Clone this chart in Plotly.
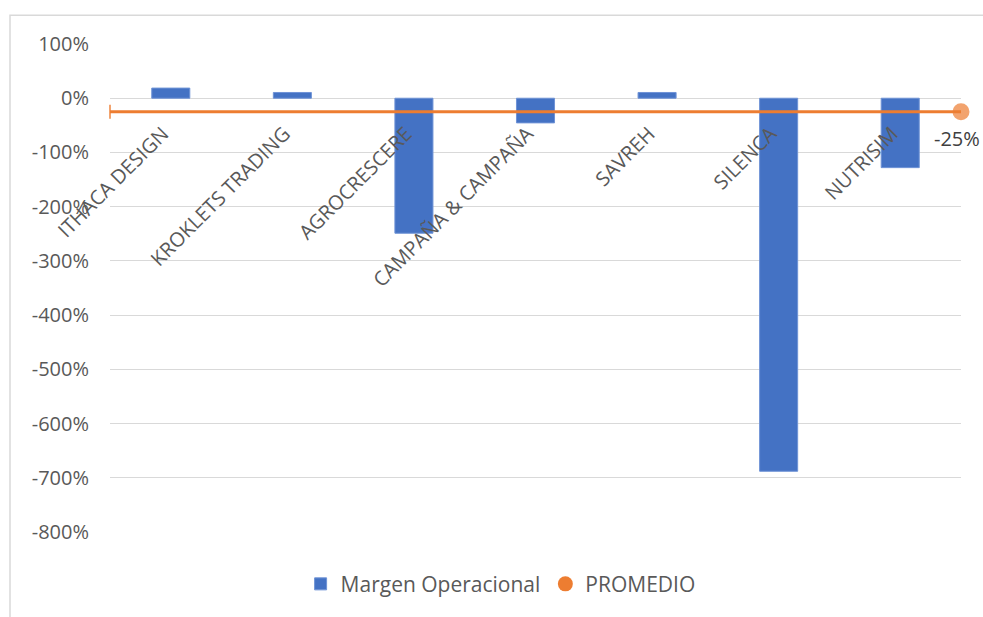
import plotly.graph_objects as go

categories = ["ITHACA DESIGN", "KROKLETS TRADING", "AGROCRESCERE", "CAMPAÑA & CAMPAÑA",
              "SAVREH", "SILENCA", "NUTRISIM"]
margen = [18.7, 10.6, -249, -45.5, 10.6, -688, -128]
promedio = -25
y_ticks = [100, 0, -100, -200, -300, -400, -500, -600, -700, -800]
y_tick_labels = [f"{v}%" for v in y_ticks]

BLUE = "#4472C4"
ORANGE = "#ED7D31"
GRAY = "#595959"
FONT = "Open Sans"
FS = 20

n = len(categories)
prom_vals = [promedio] * n
sym = ["line-ns"] + ["circle"] * (n - 1)
sizes = [10] + [0] * (n - 2) + [15]

fig = go.Figure()
fig.add_trace(go.Bar(
    x=categories, y=margen, name="Margen Operacional",
    marker=dict(color=BLUE, line=dict(color="#6f93d6", width=1)),
))
fig.add_trace(go.Scatter(
    x=categories, y=prom_vals, name="PROMEDIO", xaxis="x2",
    mode="lines+markers", showlegend=False,
    line=dict(color=ORANGE, width=3),
    marker=dict(color=ORANGE, symbol=sym, size=sizes, line=dict(color=ORANGE, width=2)),
    cliponaxis=False,
))
# legend entry shows only the marker, as in the reference
fig.add_trace(go.Scatter(
    x=[None], y=[None], name="PROMEDIO", mode="markers",
    marker=dict(color=ORANGE, size=15),
))

fig.add_annotation(
    x=categories[-1], xref="x2", y=promedio, yref="y",
    text=f"{promedio}%", showarrow=False, yshift=-27, xshift=-4,
    font=dict(family=FONT, size=FS, color="#404040"),
)

fig.update_layout(
    width=983, height=617,
    margin=dict(l=110, r=22, t=44, b=82.5),
    paper_bgcolor="white", plot_bgcolor="white",
    font=dict(family=FONT, size=FS, color=GRAY),
    bargap=0.687,
    showlegend=True,
    legend=dict(orientation="h", x=0.459, xanchor="center", y=-0.107, yanchor="middle",
                font=dict(family=FONT, size=21, color=GRAY), itemwidth=30,
                traceorder="normal"),
    xaxis=dict(
        type="category", range=[-0.5, n - 0.5],
        anchor="free", position=8 / 9,
        tickangle=-45, showgrid=False, showline=False, ticks="",
        tickfont=dict(family=FONT, size=20, color=GRAY),
        ticklabelstandoff=19, ticklabelshift=-8,
        zeroline=False, fixedrange=True,
    ),
    xaxis2=dict(
        type="category", overlaying="x", range=[0, n - 1], visible=False,
        showgrid=False, fixedrange=True,
    ),
    yaxis=dict(
        range=[-800, 100], tickvals=y_ticks, ticktext=y_tick_labels,
        showgrid=True, gridcolor="#D9D9D9", gridwidth=1,
        zeroline=True, zerolinecolor="#D9D9D9", zerolinewidth=1,
        showline=False, ticks="", ticklabelstandoff=20,
        tickfont=dict(family=FONT, size=FS, color=GRAY), fixedrange=True,
    ),
    shapes=[dict(type="rect", xref="paper", yref="paper",
                 x0=(10 - 110) / 851, x1=(1000 - 110) / 851,
                 y0=(534.5 - 640) / 490.5, y1=(534.5 - 15) / 490.5,
                 line=dict(color="#D9D9D9", width=1.5), fillcolor="rgba(0,0,0,0)",
                 layer="below")],
)

fig.write_html("out.html", config={"displayModeBar": False},
               post_script="document.body.style.margin='0';document.body.style.overflow='hidden';")
